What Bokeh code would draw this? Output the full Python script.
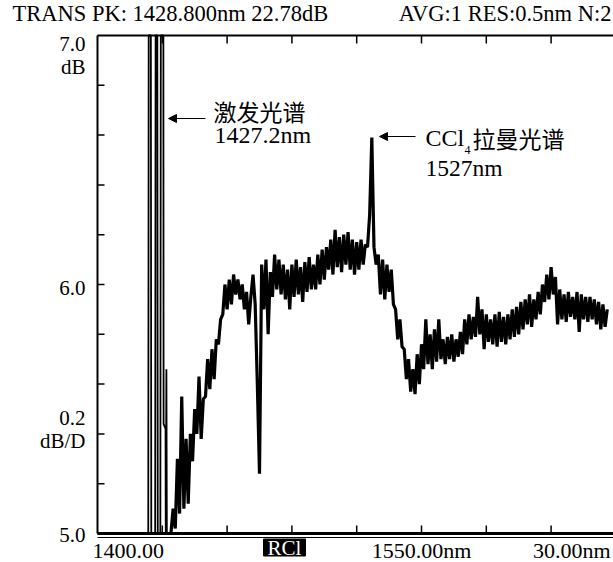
from bokeh.plotting import figure
from bokeh.models import Label, Arrow, NormalHead, Range1d
from bokeh.embed import file_html
from bokeh.resources import INLINE

# ---------------- data ----------------
# laser (excitation) region: trace runs off the screen at top (7.0) and bottom (5.0)
laser_nm = [1400.0, 1423.5, 1423.7, 1424.7, 1424.9, 1426.7, 1426.9, 1427.7, 1427.9,
            1429.1, 1429.3, 1430.5, 1430.6, 1431.5, 1431.6, 1431.9, 1432.1, 1434.0]
laser_db = [5.00, 5.00, 7.00, 7.00, 5.00, 5.00, 7.00, 7.00, 5.00,
            5.00, 7.00, 7.00, 5.44, 5.42, 5.00, 5.66, 5.00, 5.00]

# spectrum samples, one per nm starting at 1434 nm
spec_start_nm = 1434.0
spec_step_nm = 1.0
spec_db = [
    5.00, 5.10, 5.02, 5.30, 5.08, 5.55, 5.10, 5.38, 5.12, 5.40,   # 1434
    5.29, 5.50, 5.40, 5.63, 5.38, 5.54, 5.55, 5.70, 5.58, 5.74,   # 1444
    5.62, 5.78, 5.76, 5.86, 5.88, 6.00, 5.90, 6.02, 5.92, 6.04,   # 1454
    5.96, 6.02, 5.94, 6.00, 5.90, 5.97, 5.84, 5.95, 6.04, 5.92,   # 1464
    5.60, 5.24, 6.08, 5.90, 6.10, 5.80, 6.05, 5.95, 6.12, 5.98,   # 1474
    6.10, 5.96, 6.08, 5.94, 6.06, 5.90, 6.08, 5.95, 6.10, 5.96,   # 1484
    6.07, 5.93, 6.09, 5.97, 6.11, 5.98, 6.08, 5.98, 6.12, 6.00,   # 1494
    6.14, 6.02, 6.15, 6.06, 6.18, 6.04, 6.22, 6.07, 6.19, 6.05,   # 1504
    6.20, 6.08, 6.21, 6.06, 6.18, 6.04, 6.17, 6.06, 6.18, 6.08,   # 1514
    6.16, 6.15, 6.28, 6.59, 6.15, 6.08, 6.12, 5.96, 6.10, 5.94,   # 1524
    6.08, 5.97, 6.06, 5.92, 5.90, 5.78, 5.86, 5.75, 5.74, 5.62,   # 1534
    5.70, 5.57, 5.66, 5.56, 5.72, 5.60, 5.76, 5.66, 5.86, 5.68,   # 1544
    5.80, 5.66, 5.82, 5.69, 5.86, 5.70, 5.78, 5.68, 5.79, 5.70,   # 1554
    5.80, 5.69, 5.78, 5.71, 5.81, 5.72, 5.86, 5.76, 5.88, 5.78,   # 1564
    5.87, 5.79, 5.95, 5.80, 5.90, 5.74, 5.88, 5.77, 5.86, 5.76,   # 1574
    5.88, 5.75, 5.89, 5.77, 5.87, 5.76, 5.88, 5.78, 5.90, 5.79,   # 1584
    5.91, 5.80, 5.93, 5.82, 5.94, 5.84, 5.96, 5.83, 5.94, 5.86,   # 1594
    5.97, 5.88, 6.00, 5.93, 6.04, 5.94, 6.07, 5.96, 6.03, 5.84,   # 1604
    5.98, 5.86, 5.96, 5.85, 5.97, 5.87, 5.95, 5.86, 5.97, 5.81,   # 1614
    5.96, 5.86, 5.95, 5.85, 5.95, 5.86, 5.94, 5.84, 5.93, 5.82,   # 1624
    5.92, 5.83, 5.90,                                             # 1634
]

x_ticks = [1430, 1460, 1490, 1520, 1550, 1580, 1610]
y_ticks = [5.2, 5.4, 5.6, 5.8, 6.0, 6.2, 6.4, 6.6, 6.8]

header_left = "TRANS PK: 1428.800nm 22.78dB"
header_right = "AVG:1 RES:0.5nm N:2"
x_start_label = "1400.00"
x_center_label = "1550.00nm"
x_span_label = "30.00nm"
marker_label = "RCl"
ref_level_label = "7.0"
ref_unit_label = "dB"
mid_label = "6.0"
scale_label = "0.2"
scale_unit_label = "dB/D"
bottom_label = "5.0"
laser_name = "激发光谱"
laser_wl = "1427.2nm"
raman_name_a = "CCl"
raman_name_sub = "4"
raman_name_b = "拉曼光谱"
raman_wl = "1527nm"

# ---------------- layout ----------------
X_MIN, Y_MIN, Y_MAX = 1400.0, 5.0, 7.0
PX_PER_NM = 2.16
PX_PER_DB = 249.0
FRAME_LEFT = 97      # screen px of 1400 nm
FRAME_TOP = 35       # screen px of 7.0 dB
W, H = 613, 562


def nx(px):
    return X_MIN + (px - FRAME_LEFT) / PX_PER_NM


def ny(py):
    return Y_MAX - (py - FRAME_TOP) / PX_PER_DB


X_END = nx(W)
SERIF = "Liberation Serif"
CJK = "Noto Sans CJK SC"

p = figure(width=W, height=H, x_range=Range1d(nx(0), nx(W)), y_range=Range1d(ny(H), ny(0)),
           output_backend="svg", toolbar_location=None,
           x_axis_location=None, y_axis_location=None,
           min_border_left=0, min_border_right=0, min_border_top=0, min_border_bottom=0)
p.grid.grid_line_color = None
p.outline_line_color = None
p.background_fill_color = "white"
p.border_fill_color = "white"

# screen frame
p.segment([X_MIN], [Y_MIN], [X_MIN], [Y_MAX], line_color="black", line_width=2)
p.segment([X_MIN], [Y_MAX], [X_END], [Y_MAX], line_color="black", line_width=2)
p.segment([X_MIN], [Y_MIN], [X_END], [Y_MIN], line_color="black", line_width=3)
p.segment([X_MIN], [ny(537)], [X_END], [ny(537)], line_color="black", line_width=1)

# division ticks
TICK_NM = 7 / PX_PER_NM
TICK_DB = 8 / PX_PER_DB
p.segment([X_MIN] * len(y_ticks), y_ticks, [X_MIN + TICK_NM] * len(y_ticks), y_ticks,
          line_color="black", line_width=1.5)
p.segment(x_ticks, [Y_MAX] * len(x_ticks), x_ticks, [Y_MAX - TICK_DB] * len(x_ticks),
          line_color="black", line_width=1.5)
p.segment(x_ticks, [Y_MIN] * len(x_ticks), x_ticks, [Y_MIN + TICK_DB] * len(x_ticks),
          line_color="black", line_width=1.5)

# trace
spec_nm = [spec_start_nm + i * spec_step_nm for i in range(len(spec_db))]
p.line(laser_nm, laser_db, line_color="black", line_width=1.8)
p.line(spec_nm, spec_db, line_color="black", line_width=3.2)


def lab(text, x, y, size, align="left", font=SERIF, color="black"):
    p.add_layout(Label(x=x, y=y, text=text, text_font=font, text_font_size=f"{size}px",
                       text_align=align, text_baseline="middle", text_color=color))


# header
lab(header_left, nx(12), ny(12.5), 22.5)
lab(header_right, nx(611), ny(12.5), 22.5, align="right")

# left scale labels
lab(ref_level_label, nx(85), ny(43), 21, align="right")
lab(ref_unit_label, nx(85), ny(66), 21, align="right")
lab(mid_label, nx(85), ny(287), 21, align="right")
lab(scale_label, nx(85), ny(417), 21, align="right")
lab(scale_unit_label, nx(85), ny(440), 21, align="right")
lab(bottom_label, nx(85), ny(534), 21, align="right")

# bottom labels
lab(x_start_label, nx(92), ny(550), 22)
lab(x_center_label, 1550, ny(550), 22, align="center")
lab(x_span_label, nx(610), ny(550), 22, align="right")
p.rect([nx(284)], [ny(547)], width=42 / PX_PER_NM, height=17 / PX_PER_DB,
       fill_color="black", line_color="black")
lab(marker_label, nx(284), ny(547), 21, align="center", color="white")

# annotations
lab(laser_name, nx(213), ny(110), 23, font=CJK)
lab(laser_wl, nx(214), ny(134), 24)
p.add_layout(Arrow(x_start=nx(205), y_start=ny(118), x_end=nx(168), y_end=ny(118),
                   line_color="black", line_width=1.2,
                   end=NormalHead(size=8, fill_color="black", line_color="black")))

lab(raman_name_a, nx(425), ny(137), 24)
lab(raman_name_sub, nx(464), ny(149), 12)
lab(raman_name_b, nx(472), ny(137), 23, font=CJK)
lab(raman_wl, nx(425), ny(167), 23.5)
p.add_layout(Arrow(x_start=nx(415), y_start=ny(136), x_end=nx(379), y_end=ny(136),
                   line_color="black", line_width=1.2,
                   end=NormalHead(size=8, fill_color="black", line_color="black")))

open("out.html", "w").write(file_html(p, INLINE))
